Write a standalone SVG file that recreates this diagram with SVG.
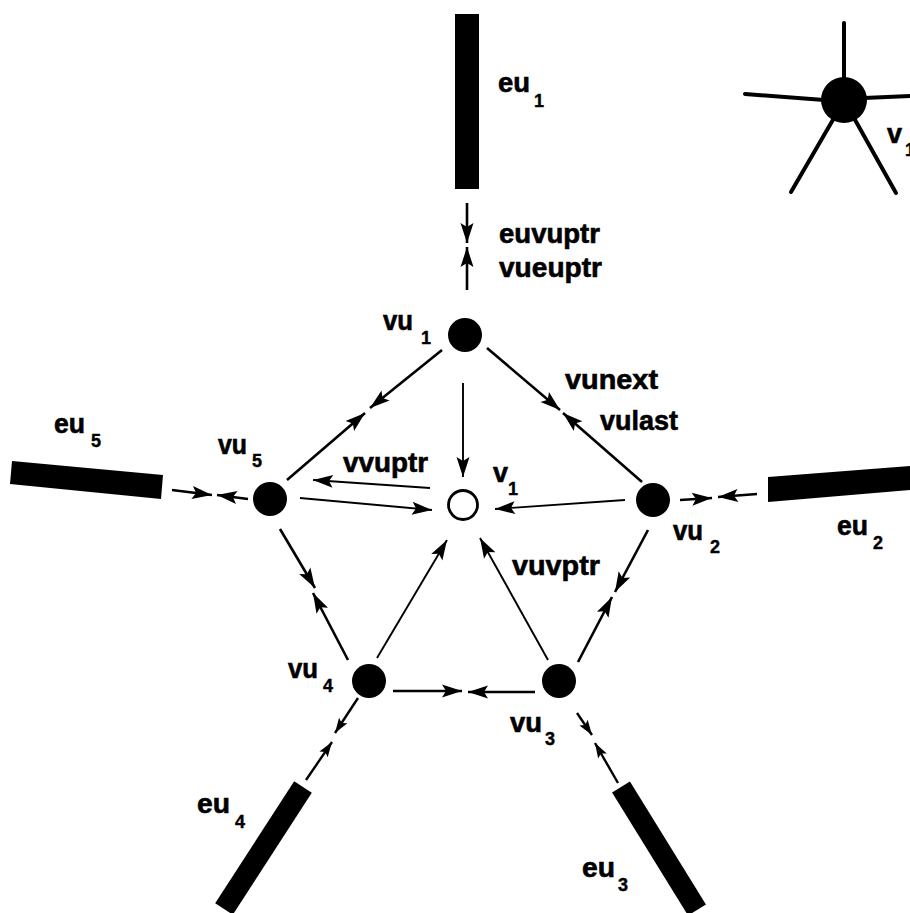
<svg xmlns="http://www.w3.org/2000/svg" width="910" height="913" viewBox="0 0 910 913">
<style>
.lbl{font-family:"Liberation Sans",Arial,sans-serif;font-weight:bold;font-size:27px;fill:#000;stroke:#000;stroke-width:0.6}
.sub{font-family:"Liberation Sans",Arial,sans-serif;font-weight:bold;font-size:18px;fill:#000;stroke:#000;stroke-width:0.4}
.c{stroke:#000;stroke-width:2.6;fill:none;marker-end:url(#ah)}
.cs{stroke:#000;stroke-width:2.4;fill:none;marker-end:url(#as)}
.t{stroke:#000;stroke-width:1.9;fill:none;marker-end:url(#ah)}
.vu{fill:#000}
.bar{fill:#000}
.spoke{stroke:#000;stroke-width:4;stroke-linecap:round}
</style>
<defs>
<marker id="ah" markerUnits="userSpaceOnUse" markerWidth="22" markerHeight="13" refX="20" refY="6.5" orient="auto" overflow="visible">
<path d="M0,0 L20,6.5 L0,13 L4,6.5 Z" fill="#000"/>
</marker>
<marker id="as" markerUnits="userSpaceOnUse" markerWidth="16" markerHeight="10" refX="15" refY="5" orient="auto" overflow="visible">
<path d="M0,0 L15,5 L0,10 L3,5 Z" fill="#000"/>
</marker>
</defs>
<rect width="910" height="913" fill="#fff"/>

<g id="star">
<line class="spoke" x1="844" y1="23" x2="844" y2="80"/>
<line class="spoke" x1="745" y1="94" x2="824" y2="100"/>
<line class="spoke" x1="864" y1="98" x2="912" y2="96"/>
<line class="spoke" x1="791" y1="192" x2="834" y2="118"/>
<line class="spoke" x1="896" y1="193" x2="854" y2="118"/>
<circle cx="844" cy="100" r="23" fill="#000"/>
<text class="lbl" x="887" y="143">v</text>
<text class="sub" x="905" y="156">1</text>
</g>

<g id="eu1">
<rect class="bar" x="455" y="14" width="24" height="175"/>
<text class="lbl" x="498" y="92" textLength="32" lengthAdjust="spacingAndGlyphs">eu</text>
<text class="sub" x="534" y="107">1</text>
</g>
<g id="eu2">
<polygon class="bar" points="768,477 910,466 910,490 768,502"/>
<text class="lbl" x="837" y="535" textLength="31" lengthAdjust="spacingAndGlyphs">eu</text>
<text class="sub" x="873" y="549">2</text>
</g>
<g id="eu3">
<line x1="621" y1="787" x2="697" y2="910" stroke="#000" stroke-width="21"/>
<text class="lbl" x="582" y="877" textLength="33" lengthAdjust="spacingAndGlyphs">eu</text>
<text class="sub" x="618" y="891">3</text>
</g>
<g id="eu4">
<line x1="303" y1="787" x2="224" y2="909" stroke="#000" stroke-width="21"/>
<text class="lbl" x="197" y="813" textLength="33" lengthAdjust="spacingAndGlyphs">eu</text>
<text class="sub" x="235" y="828">4</text>
</g>
<g id="eu5">
<polygon class="bar" points="12,461 163,475 161,499 10,484"/>
<text class="lbl" x="54" y="433" textLength="31" lengthAdjust="spacingAndGlyphs">eu</text>
<text class="sub" x="91" y="447">5</text>
</g>

<g id="vu1">
<circle class="vu" cx="465" cy="335" r="17"/>
<text class="lbl" x="383" y="330" textLength="30" lengthAdjust="spacingAndGlyphs">vu</text>
<text class="sub" x="421" y="344">1</text>
</g>
<g id="vu2">
<circle class="vu" cx="653" cy="500" r="17"/>
<text class="lbl" x="673" y="540" textLength="30" lengthAdjust="spacingAndGlyphs">vu</text>
<text class="sub" x="710" y="553">2</text>
</g>
<g id="vu3">
<circle class="vu" cx="559" cy="681" r="17"/>
<text class="lbl" x="510" y="732" textLength="32" lengthAdjust="spacingAndGlyphs">vu</text>
<text class="sub" x="545" y="745">3</text>
</g>
<g id="vu4">
<circle class="vu" cx="369" cy="681" r="17"/>
<text class="lbl" x="288" y="678" textLength="30" lengthAdjust="spacingAndGlyphs">vu</text>
<text class="sub" x="323" y="692">4</text>
</g>
<g id="vu5">
<circle class="vu" cx="270" cy="499" r="17"/>
<text class="lbl" x="218" y="454" textLength="29" lengthAdjust="spacingAndGlyphs">vu</text>
<text class="sub" x="252" y="467">5</text>
</g>
<g id="v1">
<circle cx="463" cy="505" r="14.5" fill="#fff" stroke="#000" stroke-width="2.8"/>
<text class="lbl" x="493" y="482">v</text>
<text class="sub" x="508" y="495">1</text>
</g>

<g id="connectors">
<line class="c" x1="467" y1="203" x2="467" y2="243"/>
<line class="c" x1="467" y1="290" x2="467" y2="247"/>
<line class="t" x1="463" y1="383" x2="463" y2="477"/>
<line class="c" x1="442" y1="350" x2="370" y2="408"/>
<line class="c" x1="287" y1="480" x2="365" y2="413"/>
<line class="c" x1="487" y1="348" x2="560" y2="410"/>
<line class="c" x1="642" y1="482" x2="563" y2="413"/>
<line class="t" x1="430" y1="488" x2="313" y2="480"/>
<line class="t" x1="300" y1="498" x2="432" y2="510"/>
<line class="t" x1="625" y1="500" x2="495" y2="509"/>
<line class="c" x1="680" y1="500" x2="712" y2="498"/>
<line class="c" x1="757" y1="494" x2="718" y2="497"/>
<line class="c" x1="172" y1="490" x2="212" y2="495"/>
<line class="c" x1="248" y1="499" x2="217" y2="495"/>
<line class="c" x1="280" y1="529" x2="315" y2="588"/>
<line class="c" x1="348" y1="660" x2="313" y2="593"/>
<line class="t" x1="377" y1="658" x2="447" y2="540"/>
<line class="t" x1="548" y1="660" x2="480" y2="538"/>
<line class="c" x1="648" y1="530" x2="615" y2="592"/>
<line class="c" x1="578" y1="662" x2="612" y2="597"/>
<line class="c" x1="393" y1="691" x2="462" y2="691"/>
<line class="c" x1="535" y1="692" x2="468" y2="692"/>
<line class="cs" x1="358" y1="698" x2="335" y2="733"/>
<line class="cs" x1="306" y1="780" x2="332" y2="742"/>
<line class="cs" x1="577" y1="713" x2="592" y2="735"/>
<line class="cs" x1="618" y1="783" x2="595" y2="743"/>
</g>

<g id="labels">
<text class="lbl" x="499" y="243" textLength="101" lengthAdjust="spacingAndGlyphs">euvuptr</text>
<text class="lbl" x="499" y="277" textLength="103" lengthAdjust="spacingAndGlyphs">vueuptr</text>
<text class="lbl" x="565" y="389" textLength="93" lengthAdjust="spacingAndGlyphs">vunext</text>
<text class="lbl" x="600" y="430" textLength="78" lengthAdjust="spacingAndGlyphs">vulast</text>
<text class="lbl" x="343" y="472" textLength="85" lengthAdjust="spacingAndGlyphs">vvuptr</text>
<text class="lbl" x="512" y="575" textLength="88" lengthAdjust="spacingAndGlyphs">vuvptr</text>
</g>
</svg>
